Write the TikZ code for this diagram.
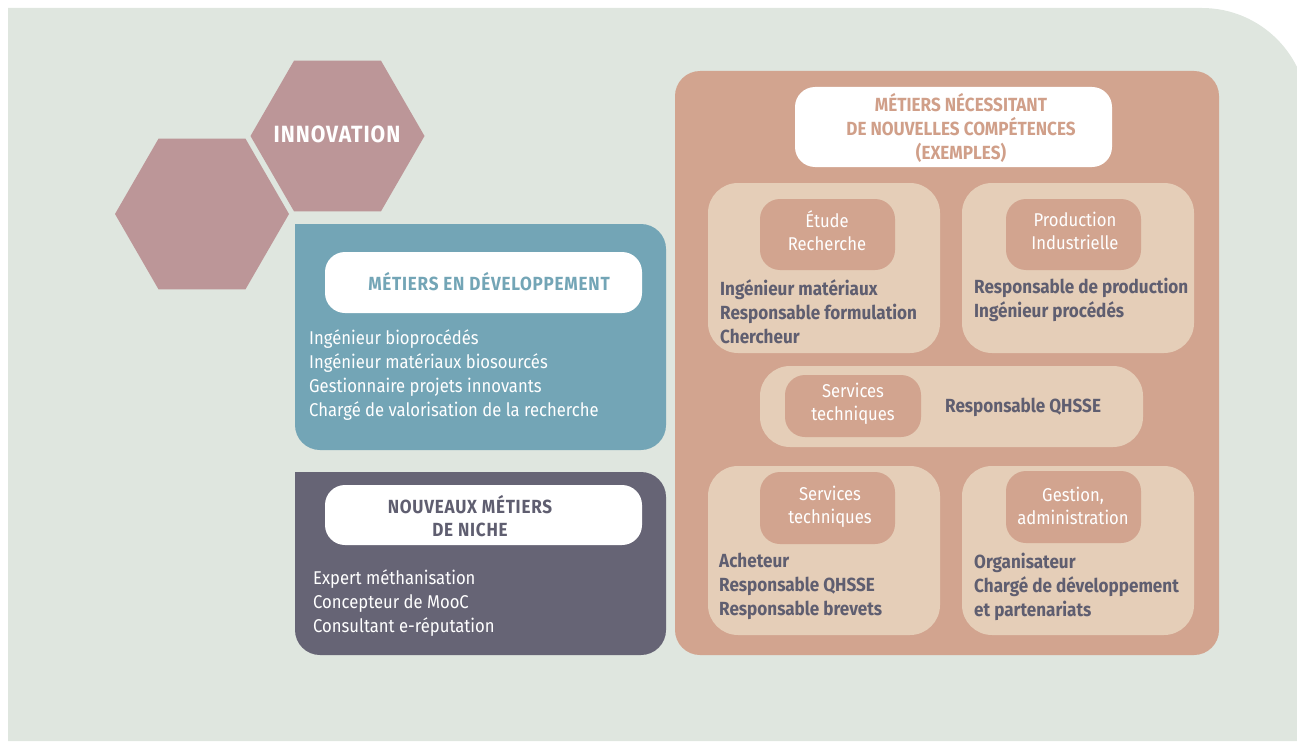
\documentclass[tikz,border=0pt]{standalone}
\usepackage{fontspec}
\setmainfont{Fira Sans}[FakeStretch=0.9]
\newfontfamily\hdrfont{Fira Sans}[FakeStretch=0.9, LetterSpace=4]
\definecolor{bgc}{HTML}{DFE6DF}
\definecolor{hexc}{HTML}{BC9698}
\definecolor{bluec}{HTML}{73A5B6}
\definecolor{grayc}{HTML}{666475}
\definecolor{salc}{HTML}{D2A48F}
\definecolor{beigec}{HTML}{E5CEB8}
\definecolor{darkc}{HTML}{5F5E70}
\definecolor{titc}{HTML}{D09F89}
\begin{document}
\begin{tikzpicture}[x=1pt,y=-1pt,
  box/.style={inner sep=0pt, outer sep=0pt, anchor=center},
  whitebox/.style={box, fill=white, rounded corners=20pt},
  tagbox/.style={box, fill=salc, rounded corners=20pt},
  subbox/.style={box, fill=beigec, rounded corners=30pt},
  lst/.style={inner sep=0pt, align=left, anchor=west, text=white, font=\fontsize{18.5}{23.8}\selectfont},
  blst/.style={inner sep=0pt, align=left, anchor=west, text=darkc, font=\bfseries\fontsize{19}{24}\selectfont},
  tagtxt/.style={inner sep=0pt, align=center, text=white, font=\fontsize{18.5}{23}\selectfont},
  hdr/.style={inner sep=0pt, align=center, font=\hdrfont\bfseries\fontsize{19}{23.5}\selectfont},
  tit/.style={inner sep=0pt, align=center, font=\bfseries\fontsize{19}{24}\selectfont}]
\useasboundingbox (0,0) rectangle (1297,741);
\begin{scope}
\clip (0,0) rectangle (1297,741);
\fill[bgc] (8,741) -- (8,8) -- (1202,8) .. controls (1260.5,8) and (1308,55.5) .. (1308,114) -- (1308,741) -- cycle;
\end{scope}
% hexagons
\fill[hexc] (424.5,136) -- (381,60.7) -- (294,60.7) -- (250.5,136) -- (294,211.3) -- (381,211.3) -- cycle;
\fill[hexc] (289,214) -- (245.5,138.7) -- (158.5,138.7) -- (115,214) -- (158.5,289.3) -- (245.5,289.3) -- cycle;
\node[inner sep=0pt, text=white, font=\hdrfont\bfseries\fontsize{23.5}{28}\selectfont] (innov) at (337,134) {INNOVATION};
% blue box
\node[box, fill=bluec, rounded corners=25pt, minimum width=371pt, minimum height=226pt] (dev) at (480.5,337) {};
\fill[bluec] (295,224) rectangle (330,260);
\node[whitebox, minimum width=317pt, minimum height=61pt] (devh) at (483.5,282.5) {};
\node[hdr, text=bluec] (devht) at (489,282) {MÉTIERS EN DÉVELOPPEMENT};
\node[lst] (devl) at (309,375) {Ingénieur bioprocédés\\Ingénieur matériaux biosourcés\\Gestionnaire projets innovants\\Chargé de valorisation de la recherche};
% gray box
\node[box, fill=grayc, rounded corners=25pt, minimum width=371pt, minimum height=183pt] (niche) at (480.5,563.5) {};
\fill[grayc] (295,472) rectangle (330,505);
\node[whitebox, minimum width=317pt, minimum height=60pt] (nicheh) at (483.5,515) {};
\node[hdr, text=darkc] (nicheht) at (470,516) {NOUVEAUX MÉTIERS\\DE NICHE};
\node[lst] (nichel) at (313,603) {Expert méthanisation\\Concepteur de MooC\\Consultant e-réputation};
% salmon box
\node[box, fill=salc, rounded corners=25pt, minimum width=544pt, minimum height=584pt] (comp) at (947,363) {};
\node[whitebox, minimum width=317pt, minimum height=80pt] (comph) at (953.5,127) {};
\node[tit, text=titc] (compht) at (961,128) {MÉTIERS NÉCESSITANT\\DE NOUVELLES COMPÉTENCES\\(EXEMPLES)};
% Etude
\node[subbox, minimum width=232pt, minimum height=170pt] (etu) at (824,268) {};
\node[tagbox, minimum width=135pt, minimum height=71pt] (etut) at (827.5,234.5) {};
\node[tagtxt] (etutt) at (827,231) {Étude\\Recherche};
\node[blst] (etul) at (720,312) {Ingénieur matériaux\\Responsable formulation\\Chercheur};
% Production
\node[subbox, minimum width=232pt, minimum height=170pt] (pro) at (1078,268) {};
\node[tagbox, minimum width=135pt, minimum height=71pt] (prot) at (1073.5,234.5) {};
\node[tagtxt] (protx) at (1075,231) {Production\\Industrielle};
\node[blst] (prol) at (974,300) {Responsable de production\\Ingénieur procédés};
% QHSSE
\node[subbox, minimum width=383pt, minimum height=81pt] (qh) at (951.5,406.5) {};
\node[tagbox, minimum width=136pt, minimum height=62pt] (qht) at (853,406) {};
\node[tagtxt] (qhtt) at (853,404) {Services\\techniques};
\node[blst] (qhl) at (945,407) {Responsable QHSSE};
% Services bottom
\node[subbox, minimum width=232pt, minimum height=169pt] (ser) at (824,550.5) {};
\node[tagbox, minimum width=135pt, minimum height=72pt] (sert) at (827.5,508) {};
\node[tagtxt] (sertt) at (830,507) {Services\\techniques};
\node[blst] (serl) at (719,586) {Acheteur\\Responsable QHSSE\\Responsable brevets};
% Gestion
\node[subbox, minimum width=232pt, minimum height=169pt] (ges) at (1078,550.5) {};
\node[tagbox, minimum width=135pt, minimum height=72pt] (gest) at (1073.5,507) {};
\node[tagtxt] (gestt) at (1073,506) {Gestion,\\administration};
\node[blst] (gesl) at (974,587) {Organisateur\\Chargé de développement\\et partenariats};
\end{tikzpicture}
\end{document}
